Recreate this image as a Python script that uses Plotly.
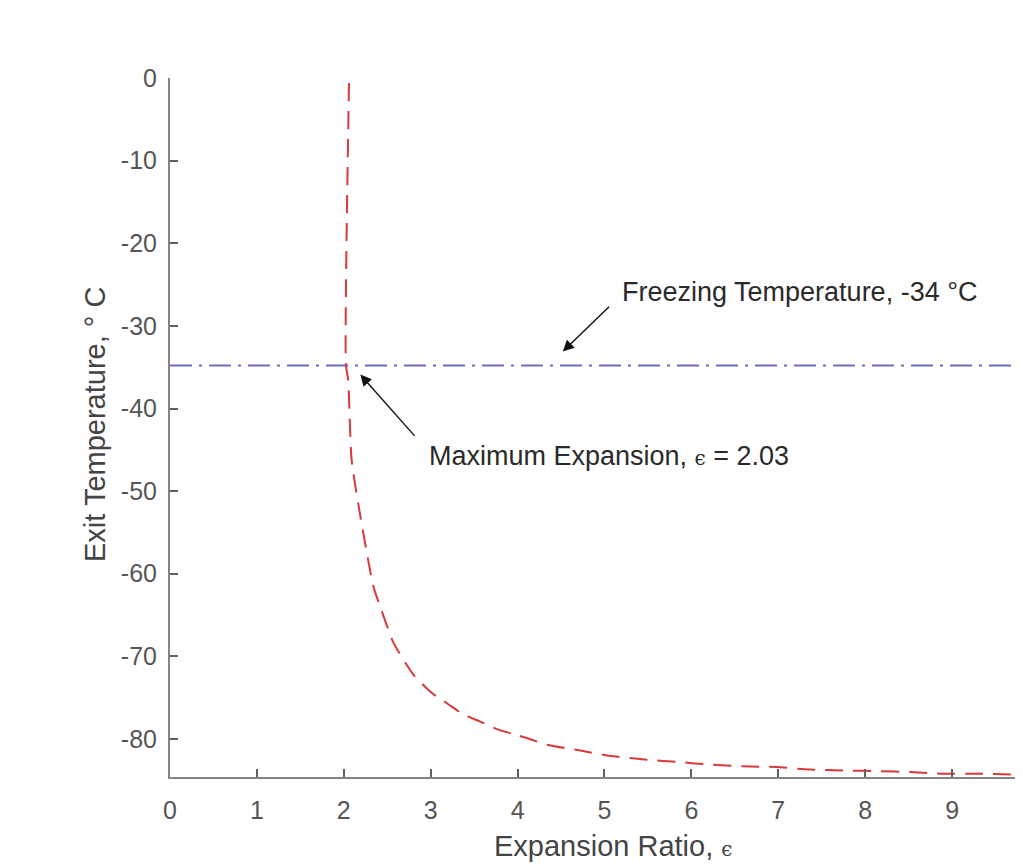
import plotly.graph_objects as go

# Red dashed curve: exit temperature vs expansion ratio
eps_vals = [2.06, 2.025, 2.05, 2.09, 2.19, 2.34, 2.42, 2.57, 2.80, 3.01, 3.19, 3.37,
            3.57, 3.76, 3.95, 4.14, 4.34, 4.72, 5.10, 5.49, 5.87, 6.21, 6.59, 6.98,
            7.36, 7.74, 8.14, 8.52, 8.90, 9.29, 9.67, 10.0]
temp_vals = [-0.6, -34.8, -36.5, -46.2, -53.0, -61.5, -64.0, -68.3, -72.2, -74.4, -75.7, -77.0,
             -77.9, -78.8, -79.4, -80.0, -80.7, -81.4, -82.1, -82.5, -82.8, -83.1, -83.3, -83.4,
             -83.7, -83.8, -83.9, -84.0, -84.2, -84.2, -84.3, -84.35]

# Freezing temperature line
freeze_x = [0, 10]
freeze_y = [-34.8, -34.8]

x_ticks = [0, 1, 2, 3, 4, 5, 6, 7, 8, 9]
y_ticks = [0, -10, -20, -30, -40, -50, -60, -70, -80]

FONT = "Liberation Sans, Arial, Helvetica, sans-serif"
EPS = '<span style="font-family:DejaVu Serif, serif;font-size:20px">ϵ</span>'

# The page body adds an 8px offset; compensate so the plot lands where the reference has it
OFF = 8
W, H = 1023 - OFF, 864 - OFF
L, R, T, B = 170 - OFF, 0, 78 - OFF, 87
pw, ph = W - L - R, H - T - B


def px_x(p):
    return (p - OFF - L) / pw


def px_y(p):
    return (H - B - (p - OFF)) / ph


fig = go.Figure()
fig.add_trace(go.Scatter(x=freeze_x, y=freeze_y, mode="lines",
                         line=dict(color="#6c6cbf", width=2, dash="22px,7px,3px,7px"),
                         showlegend=False))
fig.add_trace(go.Scatter(x=eps_vals, y=temp_vals, mode="lines",
                         line=dict(color="#d8393b", width=2, dash="18px,10px",
                                   shape="spline", smoothing=0.6),
                         showlegend=False))

axis_common = dict(showline=True, linecolor="#858585", linewidth=2, ticks="inside",
                   ticklen=8, tickwidth=1.5, tickcolor="#606060", showgrid=False,
                   zeroline=False, mirror=False, automargin=False,
                   tickfont=dict(family=FONT, size=25, color="#555555"))

fig.update_xaxes(range=[0, 9.816], tickvals=x_ticks, ticktext=[str(v) for v in x_ticks],
                 ticklabelstandoff=10, **axis_common)
fig.update_yaxes(range=[-84.6, 0], tickvals=y_ticks, ticktext=[str(v) for v in y_ticks],
                 ticklabelstandoff=6, **axis_common)

annotations = [
    # arrows
    dict(x=4.52, y=-33.1, ax=5.07, ay=-27.5, xref="x", yref="y", axref="x", ayref="y",
         text="", showarrow=True, arrowhead=2, arrowsize=1.6, arrowwidth=1.4, arrowcolor="#111111"),
    dict(x=2.19, y=-35.9, ax=2.83, ay=-43.5, xref="x", yref="y", axref="x", ayref="y",
         text="", showarrow=True, arrowhead=2, arrowsize=1.6, arrowwidth=1.4, arrowcolor="#111111"),
    # texts
    dict(x=5.18, y=-25.9, xref="x", yref="y", text="Freezing Temperature, -34 °C",
         showarrow=False, xanchor="left", yanchor="middle",
         font=dict(family=FONT, size=27, color="#2a2a2a")),
    dict(x=2.96, y=-45.7, xref="x", yref="y", text="Maximum Expansion, " + EPS + " = 2.03",
         showarrow=False, xanchor="left", yanchor="middle",
         font=dict(family=FONT, size=27, color="#2a2a2a")),
    # axis titles
    dict(x=px_x(613), y=px_y(846), xref="paper", yref="paper",
         text="Expansion Ratio, " + EPS,
         showarrow=False, xanchor="center", yanchor="middle",
         font=dict(family=FONT, size=29, color="#444444")),
    dict(x=px_x(95), y=px_y(425), xref="paper", yref="paper",
         text="Exit Temperature, ° C", textangle=-90,
         showarrow=False, xanchor="center", yanchor="middle",
         font=dict(family=FONT, size=29, color="#444444")),
]

fig.update_layout(
    width=W, height=H,
    margin=dict(l=L, r=R, t=T, b=B, pad=0, autoexpand=False),
    paper_bgcolor="white", plot_bgcolor="white",
    annotations=annotations,
)

fig.write_html("out.html")
